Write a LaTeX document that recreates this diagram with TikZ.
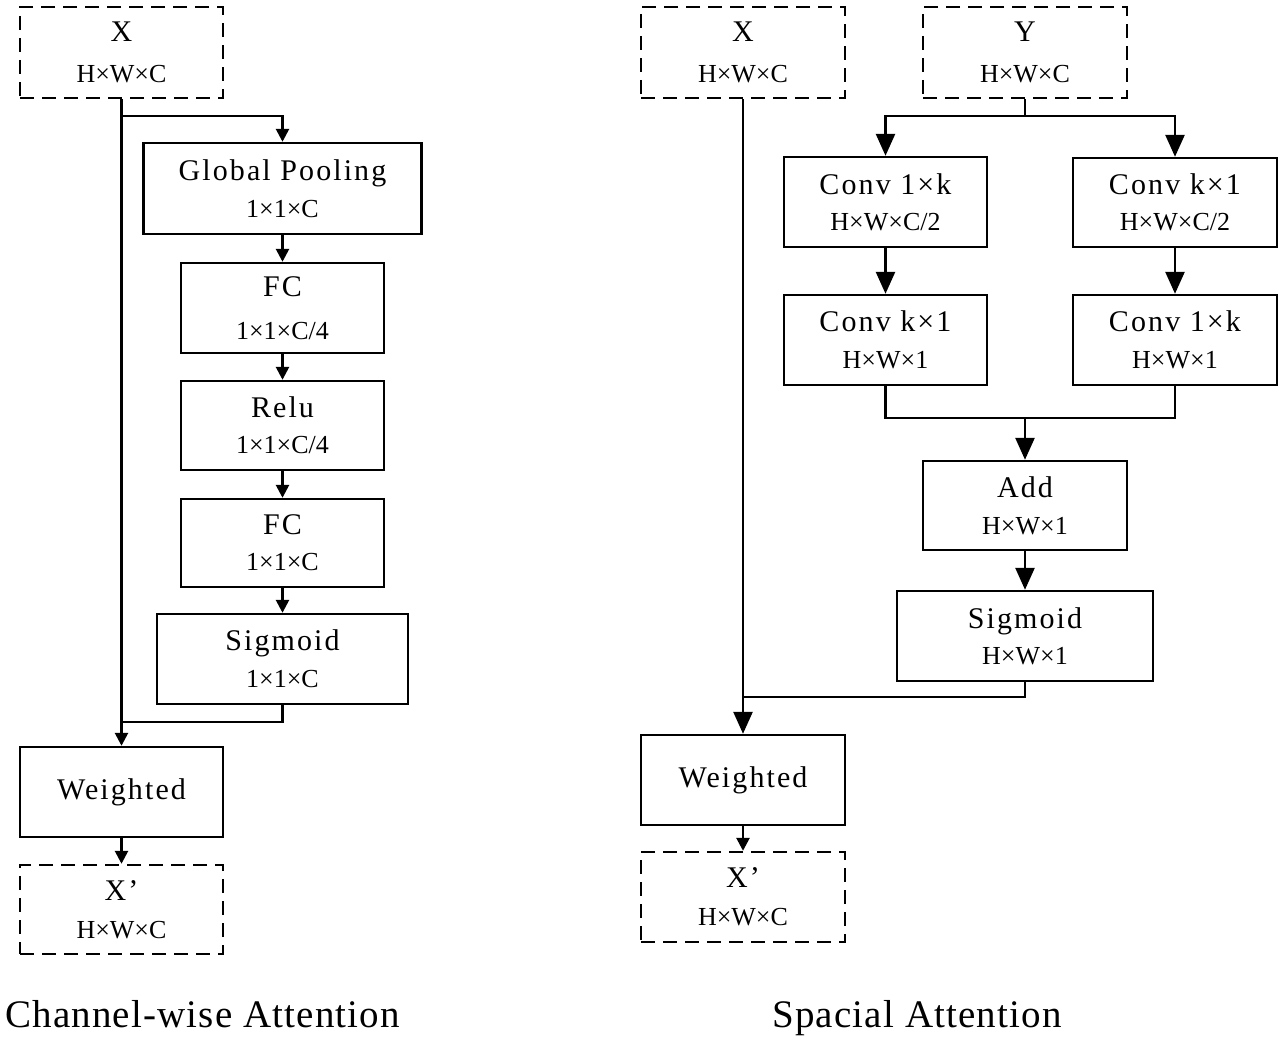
\documentclass[tikz,border=0pt]{standalone}
\usepackage{fontspec}
\setmainfont{Liberation Serif}
\newfontfamily\spfont{Liberation Serif}[LetterSpace=7]
\newfontfamily\capfont{Liberation Serif}[LetterSpace=3]
\usetikzlibrary{arrows.meta}
\newcommand\lblA[1]{{\spfont\fontsize{30}{36}\selectfont #1}}
\newcommand\lblB[1]{{\fontsize{26}{30}\selectfont #1}}
\begin{document}
\begin{tikzpicture}[x=1pt,y=-1pt,
  line join=miter,
  box/.style n args={2}{draw, line width=2.4pt, minimum width=#1, minimum height=#2, inner sep=0pt, align=center, font=\fontsize{26}{30}\selectfont},
  dbox/.style n args={2}{box={#1}{#2}, dash pattern=on 14pt off 8pt},
  wire/.style={draw, line width=2.6pt},
  arrS/.style={wire, -{Triangle[length=13pt,width=13pt]}},
  arrL/.style={wire, -{Triangle[length=22pt,width=19pt]}},
  captxt/.style={font=\capfont\fontsize{39}{44}\selectfont, inner sep=0pt, anchor=base}
]
\useasboundingbox (0,0) rectangle (1288,1040);

% ---------- Channel-wise attention ----------
\node[dbox={203pt}{91pt}] (x1) at (121.5,52.5) {\lblA{X}\\[11pt]\lblB{H×W×C}};
\node[box={278pt}{91pt}] (gp) at (282.5,188.5) {\lblA{Global Pooling}\\[7pt]\lblB{1×1×C}};
\node[box={203pt}{90pt}] (fc1) at (282.5,308) {\lblA{FC}\\[13pt]\lblB{1×1×C/4}};
\node[box={203pt}{89pt}] (relu) at (282.5,425.5) {\lblA{Relu}\\[6pt]\lblB{1×1×C/4}};
\node[box={203pt}{88pt}] (fc2) at (282.5,543) {\lblA{FC}\\[6pt]\lblB{1×1×C}};
\node[box={251pt}{90pt}] (sg1) at (282.5,659) {\lblA{Sigmoid}\\[7pt]\lblB{1×1×C}};
\node[box={203pt}{90pt}] (w1) at (121.5,792) {\lblA{Weighted}};
\node[dbox={203pt}{89pt}] (xp1) at (121.5,909.5) {\lblA{X’}\\[8pt]\lblB{H×W×C}};

\draw[arrS] (x1.south) -- (w1.north);
\draw[arrS] (x1.south |- 0,116) -| (gp.north);
\draw[arrS] (gp.south) -- (fc1.north);
\draw[arrS] (fc1.south) -- (relu.north);
\draw[arrS] (relu.south) -- (fc2.north);
\draw[arrS] (fc2.south) -- (sg1.north);
\draw[wire] (sg1.south) |- (w1.north |- 0,722);
\draw[arrS] (w1.south) -- (xp1.north);

\node[captxt, anchor=base west] (cap1) at (5,1027) {Channel-wise Attention};

% ---------- Spacial attention ----------
\node[dbox={204pt}{91pt}] (x2) at (743,52.5) {\lblA{X}\\[11pt]\lblB{H×W×C}};
\node[dbox={204pt}{91pt}] (y2) at (1025,52.5) {\lblA{Y}\\[11pt]\lblB{H×W×C}};
\node[box={203pt}{90pt}] (c1) at (885.5,202) {\lblA{Conv 1×k}\\[6pt]\lblB{H×W×C/2}};
\node[box={204pt}{89pt}] (c2) at (1175,202.5) {\lblA{Conv k×1}\\[6pt]\lblB{H×W×C/2}};
\node[box={203pt}{90pt}] (c3) at (885.5,340) {\lblA{Conv k×1}\\[7pt]\lblB{H×W×1}};
\node[box={204pt}{90pt}] (c4) at (1175,340) {\lblA{Conv 1×k}\\[7pt]\lblB{H×W×1}};
\node[box={204pt}{89pt}] (add) at (1025,505.5) {\lblA{Add}\\[7pt]\lblB{H×W×1}};
\node[box={256pt}{90pt}] (sg2) at (1025,636) {\lblA{Sigmoid}\\[6pt]\lblB{H×W×1}};
\node[box={204pt}{90pt}] (w2) at (743,780) {\lblA{Weighted}};
\node[dbox={204pt}{90pt}] (xp2) at (743,897) {\lblA{X’}\\[8pt]\lblB{H×W×C}};

\draw[arrL] (x2.south) -- (w2.north);
\draw[wire] (y2.south) -- (y2.south |- 0,116);
\draw[arrL] (y2.south |- 0,116) -| (c1.north);
\draw[arrL] (y2.south |- 0,116) -| (c2.north);
\draw[arrL] (c1.south) -- (c3.north);
\draw[arrL] (c2.south) -- (c4.north);
\draw[wire] (c3.south) |- (c4.south |- 0,418) -- (c4.south);
\draw[arrL] (add.north |- 0,418) -- (add.north);
\draw[arrL] (add.south) -- (sg2.north);
\draw[wire] (sg2.south) |- (w2.north |- 0,697);
\draw[arrS] (w2.south) -- (xp2.north);

\node[captxt] (cap2) at (917,1027) {Spacial Attention};
\end{tikzpicture}
\end{document}
